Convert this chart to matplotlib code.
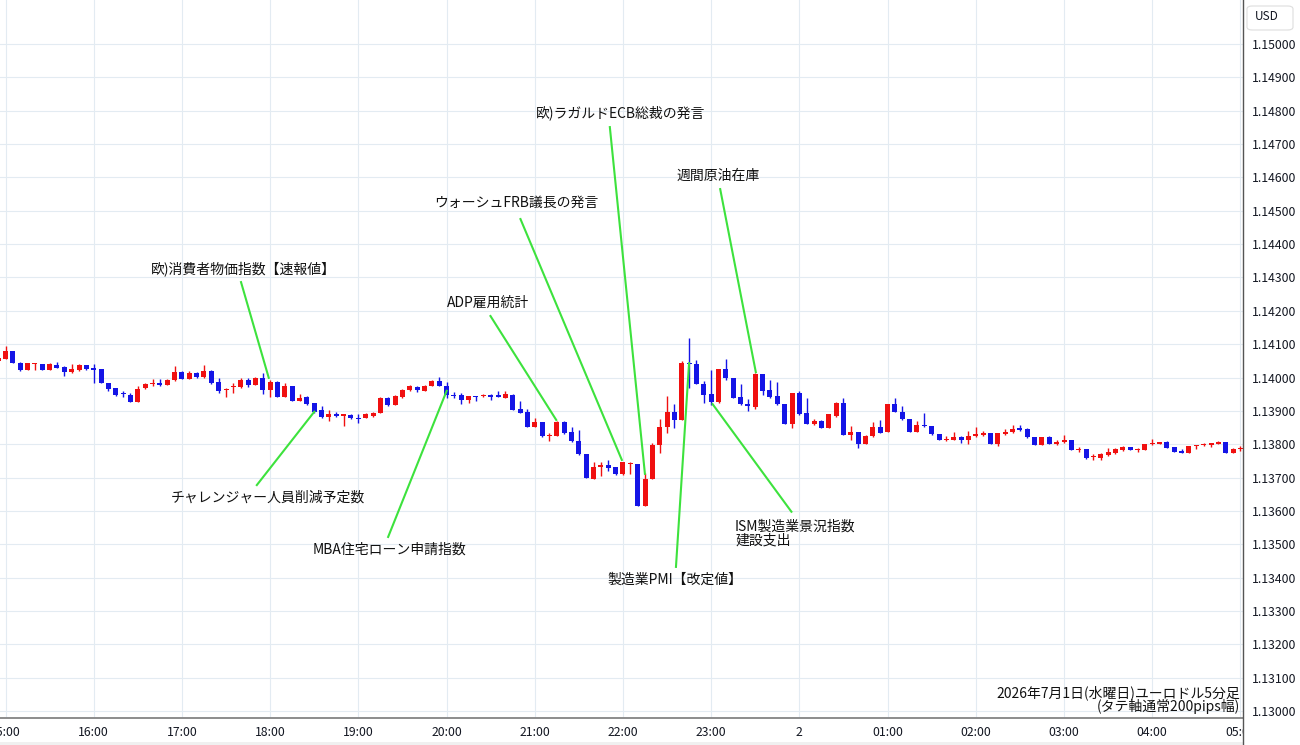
import matplotlib
matplotlib.use("Agg")
import matplotlib.pyplot as plt
import matplotlib.patches as patches
from matplotlib.lines import Line2D
import numpy as np

plt.rcParams['font.family'] = ['Noto Sans CJK JP', 'DejaVu Sans']

# ユーロドル 5分足 (index 0 = 15:00, -1 = 14:55)
bar_index = list(range(-1, 169))

opens = [
    1.14050, 1.14055, 1.14078, 1.14045, 1.14023, 1.14040, 1.14040, 1.14023, 1.14038, 1.14033,
    1.14016, 1.14022, 1.14037, 1.14030, 1.14025, 1.13983, 1.13968, 1.13953, 1.13948, 1.13928,
    1.13968, 1.13980, 1.13985, 1.13978, 1.13992, 1.14018, 1.13997, 1.14013, 1.14002, 1.14020,
    1.13986, 1.13962, 1.13972, 1.13971, 1.13993, 1.13979, 1.13998, 1.13962, 1.13988, 1.13943,
    1.13976, 1.13931, 1.13942, 1.13923, 1.13902, 1.13881, 1.13892, 1.13886, 1.13888, 1.13880,
    1.13878, 1.13886, 1.13895, 1.13940, 1.13919, 1.13942, 1.13962, 1.13972, 1.13959, 1.13976,
    1.13990, 1.13976, 1.13949, 1.13947, 1.13932, 1.13944, 1.13944, 1.13949, 1.13945, 1.13939,
    1.13949, 1.13905, 1.13897, 1.13853, 1.13866, 1.13824, 1.13826, 1.13868, 1.13836, 1.13810,
    1.13771, 1.13697, 1.13733, 1.13738, 1.13731, 1.13711, 1.13741, 1.13740, 1.13615, 1.13695,
    1.13797, 1.13853, 1.13897, 1.13872, 1.14043, 1.14042, 1.13982, 1.13950, 1.13927, 1.14027,
    1.14000, 1.13942, 1.13922, 1.13912, 1.14012, 1.13962, 1.13945, 1.13920, 1.13860, 1.13953,
    1.13895, 1.13862, 1.13871, 1.13848, 1.13885, 1.13925, 1.13829, 1.13836, 1.13802, 1.13824,
    1.13851, 1.13836, 1.13920, 1.13898, 1.13876, 1.13838, 1.13858, 1.13856, 1.13831, 1.13812,
    1.13812, 1.13822, 1.13812, 1.13824, 1.13827, 1.13833, 1.13802, 1.13831, 1.13836, 1.13850,
    1.13845, 1.13823, 1.13798, 1.13822, 1.13802, 1.13808, 1.13812, 1.13783, 1.13785, 1.13762,
    1.13760, 1.13768, 1.13775, 1.13782, 1.13793, 1.13782, 1.13782, 1.13800, 1.13802, 1.13807,
    1.13792, 1.13780, 1.13775, 1.13795, 1.13797, 1.13799, 1.13800, 1.13808, 1.13775, 1.13785,
]
highs = [
    1.14060, 1.14095, 1.14080, 1.14047, 1.14045, 1.14043, 1.14041, 1.14045, 1.14048, 1.14035,
    1.14040, 1.14040, 1.14038, 1.14040, 1.14025, 1.13985, 1.13970, 1.13960, 1.13955, 1.13975,
    1.13985, 1.13995, 1.13997, 1.13995, 1.14035, 1.14020, 1.14020, 1.14018, 1.14038, 1.14022,
    1.14000, 1.13968, 1.13984, 1.14000, 1.13998, 1.14003, 1.14015, 1.13993, 1.13990, 1.13984,
    1.13976, 1.13950, 1.13945, 1.13924, 1.13914, 1.13902, 1.13897, 1.13890, 1.13892, 1.13892,
    1.13894, 1.13897, 1.13942, 1.13942, 1.13947, 1.13967, 1.13977, 1.13974, 1.13978, 1.13993,
    1.14003, 1.13988, 1.13956, 1.13954, 1.13946, 1.13944, 1.13951, 1.13952, 1.13959, 1.13961,
    1.13951, 1.13930, 1.13905, 1.13880, 1.13866, 1.13834, 1.13870, 1.13871, 1.13851, 1.13842,
    1.13771, 1.13748, 1.13748, 1.13753, 1.13733, 1.13748, 1.13748, 1.13740, 1.13715, 1.13805,
    1.13875, 1.13945, 1.13922, 1.14050, 1.14118, 1.14052, 1.13990, 1.14022, 1.14027, 1.14055,
    1.14000, 1.13980, 1.13935, 1.14015, 1.14012, 1.13992, 1.13987, 1.13920, 1.13953, 1.13960,
    1.13940, 1.13875, 1.13872, 1.13892, 1.13927, 1.13939, 1.13855, 1.13838, 1.13827, 1.13868,
    1.13874, 1.13922, 1.13939, 1.13915, 1.13876, 1.13871, 1.13895, 1.13856, 1.13831, 1.13824,
    1.13836, 1.13824, 1.13841, 1.13851, 1.13841, 1.13833, 1.13833, 1.13846, 1.13858, 1.13858,
    1.13850, 1.13823, 1.13823, 1.13825, 1.13812, 1.13828, 1.13812, 1.13792, 1.13785, 1.13770,
    1.13775, 1.13788, 1.13788, 1.13795, 1.13793, 1.13790, 1.13802, 1.13815, 1.13808, 1.13810,
    1.13792, 1.13785, 1.13795, 1.13797, 1.13805, 1.13802, 1.13810, 1.13808, 1.13790, 1.13795,
]
lows = [
    1.14046, 1.14055, 1.14043, 1.14019, 1.14022, 1.14022, 1.14022, 1.14022, 1.14028, 1.14005,
    1.14013, 1.14020, 1.14022, 1.13985, 1.13983, 1.13960, 1.13945, 1.13943, 1.13927, 1.13928,
    1.13965, 1.13975, 1.13975, 1.13978, 1.13990, 1.13995, 1.13995, 1.14000, 1.14000, 1.13982,
    1.13955, 1.13943, 1.13953, 1.13969, 1.13971, 1.13977, 1.13952, 1.13943, 1.13941, 1.13943,
    1.13930, 1.13929, 1.13919, 1.13894, 1.13880, 1.13871, 1.13883, 1.13856, 1.13876, 1.13863,
    1.13878, 1.13881, 1.13894, 1.13916, 1.13918, 1.13940, 1.13960, 1.13957, 1.13959, 1.13974,
    1.13974, 1.13939, 1.13939, 1.13920, 1.13925, 1.13931, 1.13941, 1.13934, 1.13941, 1.13939,
    1.13902, 1.13893, 1.13851, 1.13853, 1.13822, 1.13809, 1.13825, 1.13831, 1.13807, 1.13768,
    1.13699, 1.13696, 1.13706, 1.13719, 1.13709, 1.13709, 1.13711, 1.13615, 1.13615, 1.13695,
    1.13775, 1.13833, 1.13850, 1.13872, 1.13968, 1.13980, 1.13923, 1.13917, 1.13925, 1.13992,
    1.13940, 1.13918, 1.13900, 1.13907, 1.13948, 1.13938, 1.13918, 1.13860, 1.13850, 1.13888,
    1.13860, 1.13858, 1.13848, 1.13848, 1.13883, 1.13829, 1.13814, 1.13789, 1.13800, 1.13822,
    1.13833, 1.13836, 1.13896, 1.13873, 1.13836, 1.13838, 1.13853, 1.13829, 1.13812, 1.13810,
    1.13812, 1.13804, 1.13802, 1.13822, 1.13825, 1.13802, 1.13794, 1.13829, 1.13834, 1.13840,
    1.13818, 1.13798, 1.13798, 1.13800, 1.13798, 1.13805, 1.13783, 1.13778, 1.13755, 1.13753,
    1.13753, 1.13765, 1.13772, 1.13780, 1.13782, 1.13778, 1.13782, 1.13797, 1.13800, 1.13790,
    1.13778, 1.13775, 1.13775, 1.13785, 1.13795, 1.13793, 1.13800, 1.13775, 1.13775, 1.13780,
]
closes = [
    1.14057, 1.14078, 1.14045, 1.14023, 1.14043, 1.14041, 1.14023, 1.14040, 1.14030, 1.14016,
    1.14025, 1.14038, 1.14027, 1.14022, 1.13983, 1.13965, 1.13948, 1.13950, 1.13928, 1.13965,
    1.13982, 1.13985, 1.13978, 1.13992, 1.14017, 1.13997, 1.14015, 1.14002, 1.14020, 1.13985,
    1.13960, 1.13967, 1.13976, 1.13993, 1.13979, 1.14000, 1.13962, 1.13988, 1.13943, 1.13974,
    1.13931, 1.13940, 1.13921, 1.13897, 1.13881, 1.13892, 1.13886, 1.13888, 1.13878, 1.13876,
    1.13890, 1.13895, 1.13940, 1.13919, 1.13945, 1.13964, 1.13974, 1.13962, 1.13976, 1.13990,
    1.13976, 1.13949, 1.13945, 1.13932, 1.13944, 1.13941, 1.13949, 1.13942, 1.13943, 1.13951,
    1.13903, 1.13895, 1.13853, 1.13866, 1.13824, 1.13827, 1.13868, 1.13834, 1.13810, 1.13770,
    1.13699, 1.13733, 1.13738, 1.13728, 1.13711, 1.13746, 1.13744, 1.13615, 1.13695, 1.13797,
    1.13853, 1.13897, 1.13872, 1.14045, 1.14040, 1.13980, 1.13948, 1.13927, 1.14027, 1.14000,
    1.13940, 1.13920, 1.13915, 1.14012, 1.13960, 1.13943, 1.13920, 1.13860, 1.13953, 1.13892,
    1.13862, 1.13871, 1.13848, 1.13890, 1.13925, 1.13829, 1.13836, 1.13802, 1.13824, 1.13851,
    1.13834, 1.13920, 1.13898, 1.13876, 1.13838, 1.13858, 1.13854, 1.13830, 1.13812, 1.13815,
    1.13822, 1.13812, 1.13824, 1.13831, 1.13833, 1.13802, 1.13833, 1.13838, 1.13846, 1.13843,
    1.13822, 1.13798, 1.13823, 1.13800, 1.13808, 1.13812, 1.13783, 1.13785, 1.13758, 1.13765,
    1.13770, 1.13778, 1.13785, 1.13793, 1.13782, 1.13785, 1.13800, 1.13803, 1.13808, 1.13790,
    1.13778, 1.13775, 1.13795, 1.13797, 1.13800, 1.13802, 1.13808, 1.13775, 1.13785, 1.13787,
]

hour_labels = ['15:00', '16:00', '17:00', '18:00', '19:00', '20:00', '21:00', '22:00',
               '23:00', '2', '01:00', '02:00', '03:00', '04:00', '05:00']
price_ticks = [1.130 + 0.001 * k for k in range(21)]

# 指標ラベル
event_labels = ['欧)消費者物価指数【速報値】', 'チャレンジャー人員削減予定数', 'MBA住宅ローン申請指数',
                'ADP雇用統計', 'ウォーシュFRB議長の発言', '欧)ラガルドECB総裁の発言',
                '製造業PMI【改定値】', '週間原油在庫', 'ISM製造業景況指数\n建設支出']
# (text x, text y, line start x, line start y, line end x, line end y, ha)
event_pos = [
    (32.4, 1.14325, 32.0, 1.14289, 35.85, 1.13996, 'center'),
    (35.7, 1.13639, 34.1, 1.13675, 42.1, 1.13900, 'center'),
    (52.3, 1.13483, 52.0, 1.13519, 60.07, 1.13963, 'center'),
    (65.6, 1.14223, 65.9, 1.14187, 75.0, 1.13870, 'center'),
    (69.5, 1.14523, 70.0, 1.14478, 83.9, 1.13750, 'center'),
    (83.7, 1.14793, 82.2, 1.14754, 87.0, 1.13708, 'center'),
    (91.1, 1.13393, 91.2, 1.13429, 93.0, 1.14046, 'center'),
    (96.9, 1.14604, 97.2, 1.14568, 102.1, 1.14013, 'center'),
    (99.25, 1.13532, 107.0, 1.13595, 96.1, 1.13923, 'left'),
]

RED = '#f01010'
BLUE = '#1414e6'
GRID = '#e3ebf2'
GREEN = '#3de23d'

fig = plt.figure(figsize=(13, 7.45), dpi=100)
ax = fig.add_axes([0, 27 / 745, 1243 / 1300, 718 / 745])

x = np.array(bar_index)
o = np.array(opens)
h = np.array(highs)
l = np.array(lows)
c = np.array(closes)
colors = [RED if cc >= oo else BLUE for oo, cc in zip(o, c)]

ax.vlines(x, l, h, colors=colors, lw=1.0, zorder=3)
body_low = np.minimum(o, c)
body_h = np.maximum(np.abs(c - o), 0.00004)
ax.bar(x, body_h, bottom=body_low, width=0.68, color=colors, linewidth=0, zorder=4)

ax.set_xlim(-0.75, 168.35)
ax.set_ylim(1.12979, 1.15132)

ax.set_xticks(range(0, 169, 12))
ax.set_xticklabels(hour_labels)
ax.set_yticks(price_ticks)
ax.set_yticklabels([f'{p:.5f}' for p in price_ticks])
ax.yaxis.tick_right()
ax.tick_params(axis='y', length=0, pad=6.5, labelsize=8.8, labelcolor='#131722')
ax.tick_params(axis='x', length=0, pad=5.5, labelsize=8.8, labelcolor='#131722')
ax.grid(True, color=GRID, lw=0.8, zorder=0)
ax.set_axisbelow(True)

for side in ['top', 'left']:
    ax.spines[side].set_visible(False)
ax.spines['bottom'].set_color('#8c8c8c')
ax.spines['bottom'].set_linewidth(1.4)
ax.spines['right'].set_visible(False)

# 指標の注記
for label, (tx, ty, sx, sy, ex, ey, ha) in zip(event_labels, event_pos):
    ax.plot([sx, ex], [sy, ey], color=GREEN, lw=1.5, zorder=5, solid_capstyle='butt')
    ax.text(tx, ty, label, fontsize=10, ha=ha, va='center', color='#111111',
            linespacing=0.95, zorder=6)

# 価格軸の下は時間ラベルを隠す
fig.add_artist(patches.Rectangle((1244 / 1300, 0), 56 / 1300, 27 / 745,
                                 transform=fig.transFigure, facecolor='white',
                                 edgecolor='none', zorder=1))
fig.add_artist(Line2D([1243 / 1300, 1243 / 1300], [0, 1], transform=fig.transFigure,
                      color='#555555', lw=1.0, zorder=2))

# 右上の通貨ボックス
fig.add_artist(patches.FancyBboxPatch((1247 / 1300, 1 - 30 / 745), 46 / 1300, 24 / 745,
                                      boxstyle='round,pad=0,rounding_size=0.004',
                                      transform=fig.transFigure, facecolor='white',
                                      edgecolor='#dddddd', lw=0.8, zorder=2))
fig.text(1267 / 1300, 1 - 17 / 745, 'USD', fontsize=8.5, ha='center', va='center',
         color='#131722')

fig.text(1240 / 1300, 1 - 693 / 745, '2026年7月1日(水曜日)ユーロドル5分足', fontsize=10,
         ha='right', va='center', color='#111111')
fig.text(1240 / 1300, 1 - 707 / 745, '(タテ軸通常200pips幅)', fontsize=10,
         ha='right', va='center', color='#111111')

fig.add_artist(patches.Rectangle((0, 0), 1243 / 1300, 3 / 745, transform=fig.transFigure,
                                 facecolor='#f0f0f0', edgecolor='none', zorder=1))

fig.savefig('out.png', dpi=100)
